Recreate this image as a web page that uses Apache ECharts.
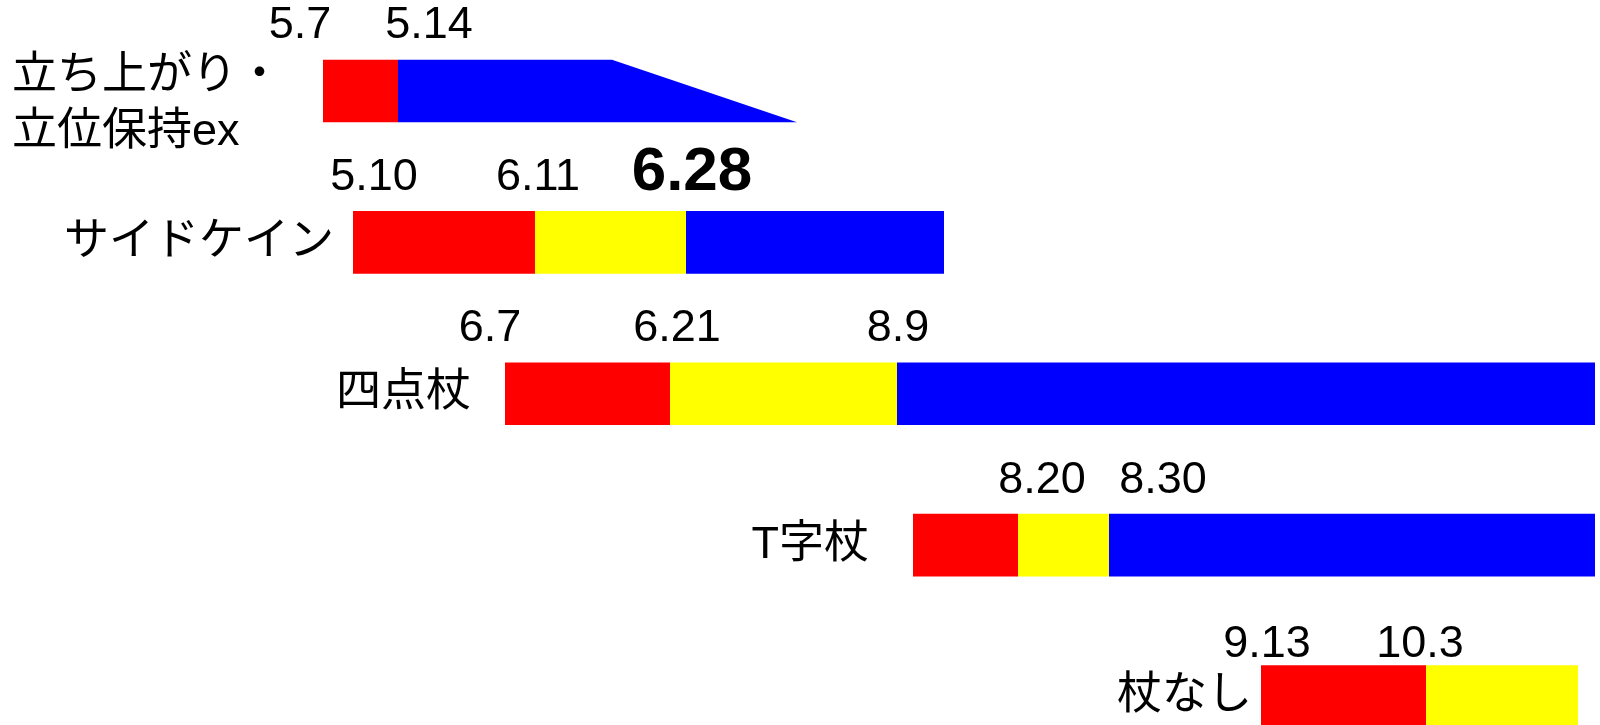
<!DOCTYPE html>
<html>
<head>
<meta charset="utf-8">
<title>Progress</title>
<script src="https://cdn.jsdelivr.net/npm/echarts@6/dist/echarts.min.js"></script>
<style>
	html, body { margin: 0; padding: 0; background: #fff; }
	#chart { width: 1600px; height: 725px; }
</style>
</head>
<body>
<div id="chart"></div>
<script>
	// == rows (top to bottom) ==
	const rowNames = ['立ち上がり・\n立位保持ex', 'サイドケイン', '四点杖', 'T字杖', '杖なし'];
	// label anchor on the time line, row position, alignment
	const rowLabels = [
		[12, 0.09, 'left'],
		[334, 1, 'right'],
		[471, 2, 'right'],
		[869, 3, 'right'],
		[1252, 4, 'right'],
	];

	// == phases: [row, start, end] on the (hand drawn) time line ==
	const redPhase = [[0, 323, 398], [1, 353, 535], [2, 505, 670], [3, 913, 1018], [4, 1261, 1426]];
	const yellowPhase = [[1, 535, 686], [2, 670, 897], [3, 1018, 1109], [4, 1426, 1578]];
	const bluePhase = [[0, 398, 612], [1, 686, 944], [2, 897, 1595], [3, 1109, 1595]];
	const blueTaper = [[0, 612, 797]];

	// == date marks: [x, y, text] ==
	const dateLabels = [
		[300, -0.435, '5.7'], [429, -0.435, '5.14'],
		[374, 0.575, '5.10'], [538, 0.575, '6.11'],
		[490, 1.57, '6.7'], [677, 1.57, '6.21'], [898, 1.57, '8.9'],
		[1042, 2.575, '8.20'], [1163, 2.575, '8.30'],
		[1267, 3.66, '9.13'], [1420, 3.66, '10.3'],
	];
	const keyDates = [[692, 0.54, '6.28']];

	var chart = echarts.init(document.getElementById('chart'));

	function barItem(shape) {
		return function (params, api) {
			var row = api.value(0);
			var p0 = api.coord([api.value(1), row]);
			var p1 = api.coord([api.value(2), row]);
			var h = api.size([0, 1])[1] * 0.413;
			var top = p0[1] - h / 2;
			if (shape === 'taper') {
				return {
					type: 'polygon',
					shape: { points: [[p0[0], top], [p1[0], top + h], [p0[0], top + h]] },
					style: { fill: api.visual('color') },
				};
			}
			return {
				type: 'rect',
				shape: { x: p0[0], y: top, width: p1[0] - p0[0], height: h },
				style: { fill: api.visual('color') },
			};
		};
	}

	function textItem(font, list, isRow) {
		return function (params, api) {
			var d = list[params.dataIndex];
			var p = api.coord([d[0], d[1]]);
			return {
				type: 'text',
				x: p[0],
				y: p[1],
				style: {
					text: isRow ? rowNames[params.dataIndex] : d[2],
					font: font,
					fill: '#000',
					align: isRow ? d[2] : 'center',
					verticalAlign: 'middle',
					lineHeight: 56,
				},
			};
		};
	}

	var option = {
		animation: false,
		backgroundColor: '#fff',
		grid: { left: 0, right: 0, top: 91, bottom: 28.5 },
		xAxis: { type: 'value', min: 0, max: 1600, show: false },
		yAxis: { type: 'value', min: 0, max: 4, inverse: true, show: false },
		series: [
			{ type: 'custom', name: 'red', color: '#ff0000', renderItem: barItem('rect'), data: redPhase, silent: true },
			{ type: 'custom', name: 'yellow', color: '#ffff00', renderItem: barItem('rect'), data: yellowPhase, silent: true },
			{ type: 'custom', name: 'blue', color: '#0000ff', renderItem: barItem('rect'), data: bluePhase, silent: true },
			{ type: 'custom', name: 'blueTaper', color: '#0000ff', renderItem: barItem('taper'), data: blueTaper, silent: true },
			{
				type: 'custom', name: 'dates', silent: true,
				renderItem: textItem('normal 45px "Liberation Sans", Arial, sans-serif', dateLabels, false),
				data: dateLabels.map(function (d) { return [d[0], d[1]]; }),
			},
			{
				type: 'custom', name: 'keyDates', silent: true,
				renderItem: textItem('bold 62px "Liberation Sans", Arial, sans-serif', keyDates, false),
				data: keyDates.map(function (d) { return [d[0], d[1]]; }),
			},
			{
				type: 'custom', name: 'rows', silent: true,
				renderItem: textItem('normal 45px "Liberation Sans", "Noto Sans CJK JP", sans-serif', rowLabels, true),
				data: rowLabels.map(function (r) { return [r[0], r[1]]; }),
			},
		],
	};

	option && chart.setOption(option);
</script>
</body>
</html>
